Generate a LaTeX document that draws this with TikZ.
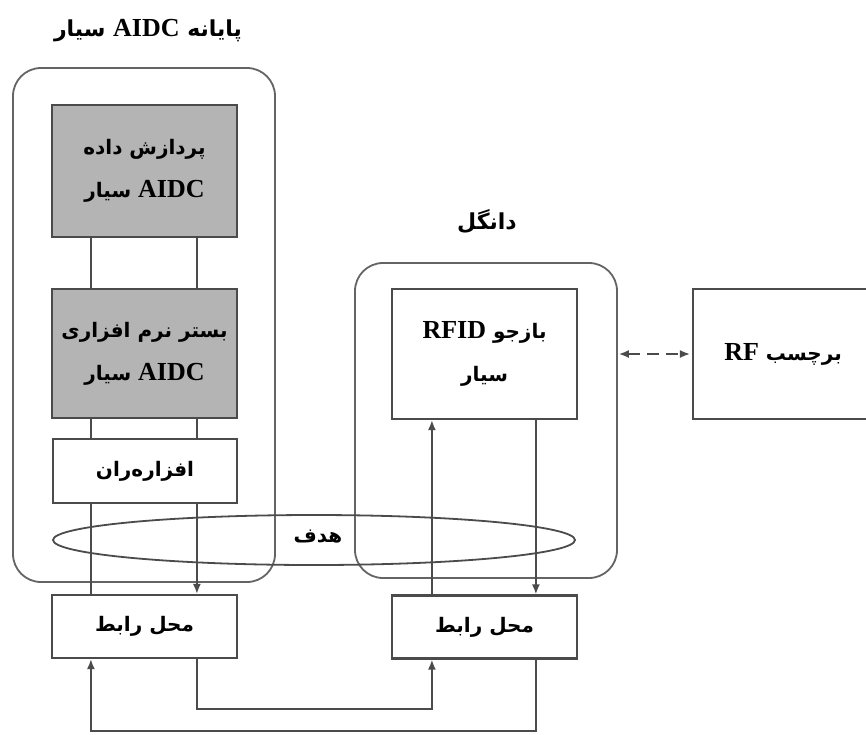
\documentclass[tikz,border=0pt]{standalone}
\usepackage{fontspec}
\usetikzlibrary{arrows.meta,shapes.geometric,calc}
\TeXXeTstate=1
\newfontfamily\arfont[Script=Arabic]{DejaVu Sans}
\newfontfamily\ltfont{Liberation Serif}
\newcommand{\RL}[1]{\beginR#1\endR}
\newcommand{\LT}[1]{\beginL{\ltfont\bfseries\fontsize{26}{43}\selectfont #1}\endL}
\definecolor{edgec}{RGB}{75,75,75}
\definecolor{boxgray}{RGB}{180,180,180}
\definecolor{roundc}{RGB}{100,100,100}
\tikzset{
  fa/.style={font=\arfont\bfseries\fontsize{20}{43}\selectfont, align=center, text=black},
  fatitle/.style={font=\arfont\bfseries\fontsize{22}{43}\selectfont, align=center, text=black},
  boxw/.style={fa, draw=edgec, line width=2.2pt, fill=white, rectangle, inner sep=0pt},
  boxg/.style={boxw, fill=boxgray},
  outer/.style={draw=roundc, line width=1.8pt, rectangle, rounded corners=28pt, inner sep=0pt},
  conn/.style={draw=edgec, line width=1.8pt},
  tipx/.tip={Latex[length=10pt,width=8pt]},
  arr/.style={conn, -tipx},
}
\begin{document}
\begin{tikzpicture}[x=1pt,y=-1pt]
\useasboundingbox[fill=white] (0,0) rectangle (866,734);
% outer containers
\node[outer, minimum width=262, minimum height=514] (termbox) at (144,325) {};
\node[outer, minimum width=262, minimum height=315] (dongle) at (486,420.5) {};
% titles
\node[fatitle] (t1) at (148,31) {\RL{پایانه \LT{AIDC} سیار}};
\node[fatitle] (t2) at (487,222) {\RL{دانگل}};
% left stack
\node[boxg, minimum width=185, minimum height=132] (proc) at (144.5,171) {\RL{پردازش داده}\\\RL{\LT{AIDC} سیار}};
\node[boxg, minimum width=185, minimum height=129] (plat) at (144.5,353.5) {\RL{بستر نرم افزاری}\\\RL{\LT{AIDC} سیار}};
\node[boxw, minimum width=184, minimum height=64] (mw) at (145,471) {\RL{افزاره‌ران}};
% reader and tag
\node[boxw, minimum width=185, minimum height=130] (reader) at (484.5,354) {\RL{بازجو \LT{RFID}}\\\RL{سیار}};
\node[boxw, minimum width=180, minimum height=130] (tag) at (783,354) {\RL{برچسب \LT{RF}}};
% interfaces
\node[boxw, minimum width=185, minimum height=63] (if1) at (144.5,626.5) {\RL{محل رابط}};
\node[boxw, minimum width=185, minimum height=63] (if2) at (484.5,627) {\RL{محل رابط}};
% target ellipse
\node[ellipse, draw=edgec, line width=1.8pt, minimum width=522, minimum height=50, inner sep=0pt, fa] (target) at (314,540) {};
\node[fa] (targetlbl) at (318,537) {\RL{هدف}};
% connection points
\coordinate (pL) at ([xshift=40]proc.south west);
\coordinate (pR) at ([xshift=146]proc.south west);
\coordinate (qL) at ([xshift=40]plat.north west);
\coordinate (qR) at ([xshift=146]plat.north west);
\coordinate (qLb) at ([xshift=40]plat.south west);
\coordinate (qRb) at ([xshift=146]plat.south west);
\coordinate (mL) at ([xshift=39]mw.north west);
\coordinate (mR) at ([xshift=145]mw.north west);
\coordinate (mLb) at ([xshift=39]mw.south west);
\coordinate (mRb) at ([xshift=145]mw.south west);
\coordinate (i1L) at ([xshift=40]if1.north west);
\coordinate (i1R) at ([xshift=146]if1.north west);
\coordinate (i1Lb) at ([xshift=40]if1.south west);
\coordinate (i1Rb) at ([xshift=146]if1.south west);
\coordinate (i2L) at ([xshift=41]if2.north west);
\coordinate (i2R) at ([xshift=145]if2.north west);
\coordinate (i2Lb) at ([xshift=41]if2.south west);
\coordinate (i2Rb) at ([xshift=145]if2.south west);
\coordinate (rL) at ([xshift=41]reader.south west);
\coordinate (rR) at ([xshift=145]reader.south west);
\coordinate (lev1) at (0,709);
\coordinate (lev2) at (0,731);
% left stack links
\draw[conn] (pL) -- (qL);
\draw[conn] (pR) -- (qR);
\draw[conn] (qLb) -- (mL);
\draw[conn] (qRb) -- (mR);
\draw[conn] (mLb) -- (i1L);
\draw[arr] (mRb) -- (i1R);
% reader links
\draw[arr] (i2L) -- (rL);
\draw[arr] (rR) -- (i2R);
% bottom links
\draw[arr] (i1Rb) -- (i1Rb |- lev1) -- (i2Lb |- lev1) -- (i2Lb);
\draw[arr] (i2Rb) -- (i2Rb |- lev2) -- (i1Lb |- lev2) -- (i1Lb);
% RF link
\draw[conn, line width=1.6pt, dash pattern=on 12pt off 7pt, tipx-tipx] ([xshift=1pt]dongle.east |- tag.west) -- ([xshift=-2pt]tag.west);
\end{tikzpicture}
\end{document}
